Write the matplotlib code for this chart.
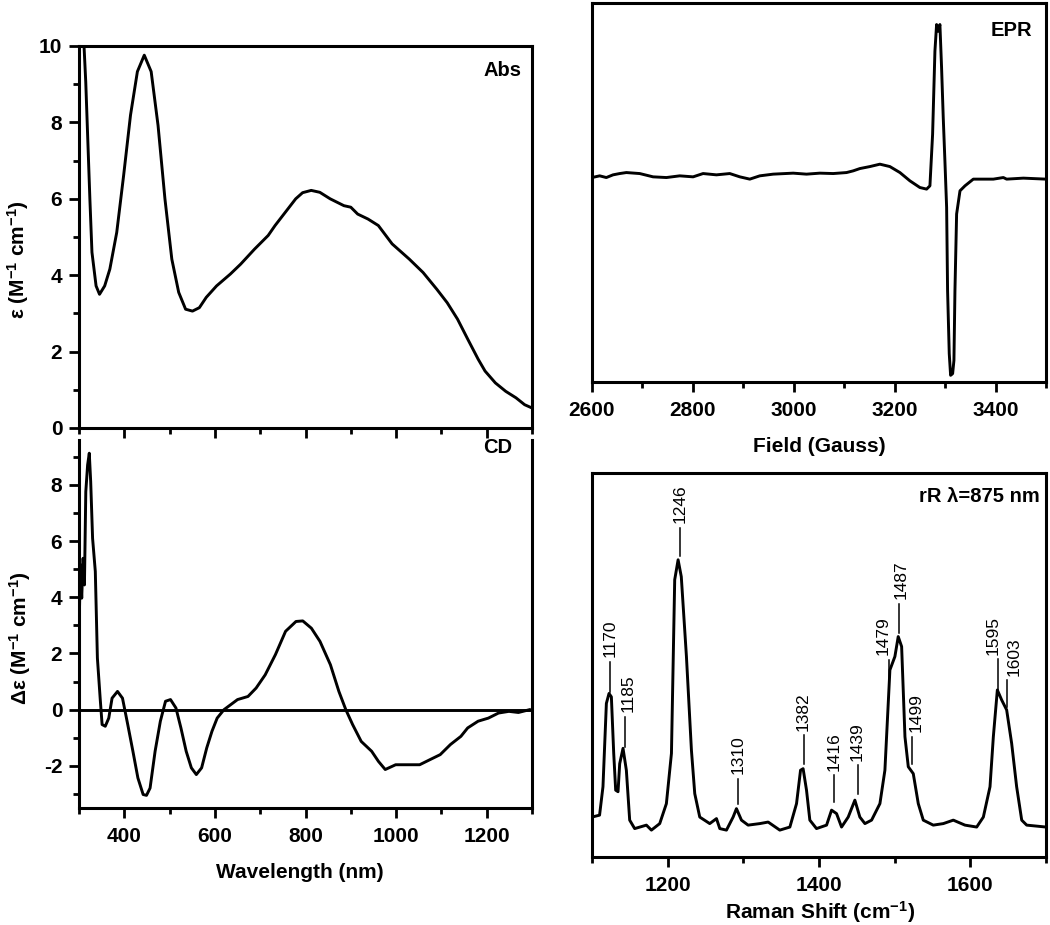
import matplotlib
matplotlib.use("Agg")
import matplotlib.pyplot as plt
from matplotlib.ticker import MultipleLocator, NullLocator, NullFormatter

plt.rcParams['font.family'] = ['Liberation Sans', 'DejaVu Sans']
plt.rcParams['font.weight'] = 'bold'
plt.rcParams['mathtext.fontset'] = 'custom'
plt.rcParams['mathtext.rm'] = 'Liberation Sans:bold'
plt.rcParams['mathtext.default'] = 'rm'
plt.rcParams['axes.unicode_minus'] = False

# ---------------- data ----------------
abs_wl = [305, 314.9, 324, 328.6, 337.7, 345.3, 356.7, 368.1, 383.3, 398.5, 413.7, 428.9, 444.1,
          459.3, 474.5, 489.7, 504.9, 520.1, 535.3, 550.5, 565.7, 580.9, 603.7, 634.1, 656.9,
          687.3, 717.6, 732.8, 755.6, 778.4, 793.6, 812.6, 831.6, 854.4, 884.8, 900, 915.2, 938,
          960.8, 991.2, 1029.2, 1059.6, 1090, 1112.8, 1135.6, 1158.4, 1181.2, 1196.4, 1219.2,
          1242, 1264.7, 1283.7, 1298.9]
abs_eps = [11.5, 9.06, 6.0, 4.6, 3.72, 3.5, 3.72, 4.16, 5.12, 6.61, 8.19, 9.33, 9.76,
           9.33, 7.92, 6.0, 4.42, 3.55, 3.11, 3.06, 3.15, 3.42, 3.72, 4.03, 4.29,
           4.68, 5.04, 5.3, 5.65, 6.0, 6.16, 6.22, 6.17, 6.0, 5.82, 5.78, 5.6, 5.47,
           5.3, 4.82, 4.42, 4.07, 3.63, 3.28, 2.85, 2.32, 1.8, 1.49, 1.18,
           0.96, 0.79, 0.61, 0.53]

cd_wl = [300, 303, 306, 309, 312, 315, 319, 322.7, 325.8, 330, 336, 340.6, 346.7, 351, 358,
         365.7, 373, 385, 396, 407.6, 419, 430, 441.6, 449, 456.9, 468, 479.6, 491, 502, 514,
         525, 536.6, 548, 559, 570.7, 582, 593.5, 605, 620, 635, 650, 673, 691, 711, 733.6,
         756, 779, 794, 813, 832, 855, 873.7, 889, 904, 923, 946, 961, 976, 999, 1029, 1052,
         1074.6, 1097.4, 1120, 1143, 1158, 1181, 1203.7, 1226, 1249, 1270, 1294.5]
cd_de = [2.67, 5.16, 3.97, 5.39, 4.44, 7.76, 8.71, 9.13, 8.12, 6.1, 4.92, 1.84, 0.41, -0.53, -0.59,
         -0.3, 0.41, 0.65, 0.41, -0.53, -1.48, -2.43, -3.02, -3.05, -2.79, -1.48, -0.41, 0.3, 0.36, 0.06,
         -0.65, -1.48, -2.07, -2.31, -2.07, -1.36, -0.77, -0.3, 0.0, 0.18, 0.36, 0.47, 0.77, 1.24, 1.96,
         2.79, 3.14, 3.16, 2.9, 2.43, 1.6, 0.65, 0.0, -0.53, -1.13, -1.48, -1.84, -2.13, -1.96, -1.96, -1.96,
         -1.78, -1.6, -1.24, -0.95, -0.65, -0.41, -0.3, -0.12, -0.06, -0.1, 0.0]

epr_field = [2600, 2615.2, 2628.4, 2641.7, 2654.9, 2668.1, 2694.6, 2721, 2747.5, 2773.9, 2800.4,
             2820.2, 2846.7, 2873.1, 2893, 2912.8, 2932.6, 2959.1, 2998.8, 3025.2, 3051.7, 3078.1,
             3104.6, 3117.8, 3131, 3150.9, 3170.7, 3190.5, 3210.4, 3230.2, 3250, 3263.3, 3269.9,
             3275.2, 3279.8, 3283.1, 3286.4, 3289.7, 3293, 3296.3, 3299.6, 3303, 3304.9, 3308.2,
             3310.9, 3314.9, 3317.5, 3319.5, 3322.8, 3329.5, 3339.4, 3355.9, 3395.6, 3415.4, 3422,
             3455.1, 3500]
epr_signal = [-1.7, 0, -1.7, 1, 2.3, 3.3, 2.3, -1, -1.7, 0, -1,
              2.3, 1, 2.3, -1, -3.3, 0, 1.7, 2.7, 1.7, 2.7, 2.3,
              3.3, 5, 7.3, 9.3, 11.7, 9.3, 3.3, -5, -11.7, -13.3, -10,
              41.7, 125, 151.7, 145, 151.7, 108.3, 58.3, 15, -31.7, -115, -178.3,
              -200, -198.3, -185, -115, -38.3, -15, -10, -3.3, -3.3, -1.7, -3.3,
              -2.3, -3.3]

rr_shift = [1100, 1110, 1114.5, 1119, 1122.5, 1125.6, 1128.7, 1131.3, 1134.4, 1136.6, 1141, 1145.4,
            1149.8, 1156.4, 1171.9, 1178.5, 1189.5, 1198.3, 1205, 1209.3, 1213.8, 1218, 1224.8,
            1231.4, 1235.8, 1242.4, 1255.6, 1264.5, 1268.9, 1277.7, 1286.5, 1290.9, 1297.5, 1306.3,
            1321.8, 1332.8, 1348.2, 1361.5, 1370.3, 1375.6, 1379, 1383.5, 1387.9, 1396.7, 1410,
            1416.6, 1423.2, 1429.8, 1438.6, 1447.4, 1454, 1460.7, 1469.5, 1480.5, 1487.1, 1493.7,
            1500.3, 1504.7, 1509.2, 1513.6, 1518, 1524.6, 1531.2, 1537.8, 1551, 1564.3, 1577.5,
            1592.9, 1608.4, 1617.2, 1626, 1630.4, 1635.7, 1641.4, 1648, 1654.6, 1661.2, 1667.9,
            1674.5, 1700]
rr_int = [10.4, 10.9, 18.3, 40, 42.6, 41.7, 27, 17.4, 17, 24.3, 28.3, 22.6,
          9.6, 7.4, 8.3, 7, 8.7, 13.9, 27, 72.2, 77.4, 73, 52.2,
          27.8, 16.5, 10.4, 8.7, 10, 7.4, 7, 10.4, 12.6, 9.6, 8.3,
          8.7, 9.1, 7, 7.8, 13.9, 22.6, 23, 17.4, 9.6, 7.4, 8.3,
          12.2, 11.3, 7.8, 10.4, 14.8, 10.4, 8.7, 9.6, 13.9, 22.6, 48.7,
          52.2, 57.4, 54.8, 31.3, 23.5, 21.7, 13.9, 9.6, 8.3, 8.7, 9.6,
          8.3, 7.8, 10.4, 18.3, 31.3, 43.5, 40.9, 38.3, 29.6, 18.3, 9.6,
          8.3, 7.8]

peak_labels = ['1170', '1185', '1246', '1310', '1382', '1416', '1439', '1479', '1487', '1499', '1595', '1603']
peak_line_x = [1124.2, 1143.2, 1216, 1293, 1380, 1420, 1451, 1492.8, 1505.6, 1522.3, 1637, 1648]
peak_text_x = [1124.2, 1147.6, 1216.8, 1293.1, 1379, 1419.6, 1450.5, 1484.9, 1509.1, 1528.9, 1630.3, 1657.7]
peak_line_lo = [43, 28.7, 78.3, 13.9, 24.3, 14.3, 16.5, 44.3, 58.3, 24.3, 43, 39]
peak_line_hi = [50.9, 36.5, 85.7, 20.4, 31.7, 21.3, 23.9, 51.3, 66, 31.3, 51.5, 46]

# ---------------- figure ----------------
W, H = 1050, 925
fig = plt.figure(figsize=(W / 100, H / 100), dpi=100)

def box(l, t, r, b):
    return [l / W, 1 - b / H, (r - l) / W, (b - t) / H]

def ftext(x, y, s, **kw):
    fig.text(x / W, 1 - y / H, s, **kw)

LW = 2.1
SP = 2.2
ax_abs = fig.add_axes(box(79, 46, 532, 428))
ax_cd = fig.add_axes(box(79, 440, 532, 808))
ax_epr = fig.add_axes(box(592, 3, 1046, 382))
ax_rr = fig.add_axes(box(592, 473, 1046, 857))

for ax in (ax_abs, ax_cd, ax_epr, ax_rr):
    for sp in ax.spines.values():
        sp.set_linewidth(SP)
    ax.tick_params(which='both', direction='out', width=2, labelsize=15, top=False, right=False)
    ax.tick_params(which='major', length=7)
    ax.tick_params(which='minor', length=4)
    ax.tick_params(axis='x', pad=7)
    ax.tick_params(axis='y', pad=5)

# Abs
ax_abs.plot(abs_wl, abs_eps, color='black', lw=LW)
ax_abs.set_xlim(300, 1300)
ax_abs.set_ylim(0, 10)
ax_abs.xaxis.set_major_locator(MultipleLocator(200))
ax_abs.xaxis.set_minor_locator(MultipleLocator(100))
ax_abs.xaxis.set_major_formatter(NullFormatter())
ax_abs.yaxis.set_major_locator(MultipleLocator(2))
ax_abs.yaxis.set_minor_locator(MultipleLocator(1))

# CD
ax_cd.plot(cd_wl, cd_de, color='black', lw=LW)
ax_cd.axhline(0, color='black', lw=LW)
ax_cd.set_xlim(300, 1300)
ax_cd.set_ylim(-3.5, 9.6)
ax_cd.spines['top'].set_visible(False)
ax_cd.xaxis.set_major_locator(MultipleLocator(200))
ax_cd.xaxis.set_minor_locator(MultipleLocator(100))
ax_cd.yaxis.set_major_locator(MultipleLocator(2))
ax_cd.yaxis.set_minor_locator(MultipleLocator(1))

# EPR
ax_epr.plot(epr_field, epr_signal, color='black', lw=LW)
ax_epr.set_xlim(2600, 3500)
ax_epr.set_ylim(-206.7, 173.3)
ax_epr.xaxis.set_major_locator(MultipleLocator(200))
ax_epr.xaxis.set_minor_locator(MultipleLocator(100))
ax_epr.yaxis.set_major_locator(NullLocator())
ax_epr.yaxis.set_minor_locator(NullLocator())

# rR
ax_rr.plot(rr_shift, rr_int, color='black', lw=LW)
ax_rr.set_xlim(1100, 1700)
ax_rr.set_ylim(0, 100)
ax_rr.xaxis.set_major_locator(MultipleLocator(200))
ax_rr.xaxis.set_minor_locator(MultipleLocator(100))
ax_rr.yaxis.set_major_locator(NullLocator())
ax_rr.yaxis.set_minor_locator(NullLocator())
for lab, lx, tx, lo, hi in zip(peak_labels, peak_line_x, peak_text_x, peak_line_lo, peak_line_hi):
    ax_rr.plot([lx, lx], [lo, hi], color='black', lw=1.1)
    ax_rr.text(tx, hi + 1.2, lab, rotation=90, ha='center', va='bottom',
               fontsize=12.5, fontweight='normal')

# panel labels
ftext(522, 71, 'Abs', ha='right', va='center', fontsize=14.5)
ftext(512, 448, 'CD', ha='right', va='center', fontsize=14.5)
ftext(1032, 30, 'EPR', ha='right', va='center', fontsize=14.5)
ftext(1040, 497, 'rR λ=875 nm', ha='right', va='center', fontsize=14.5)

# axis labels
ftext(18, 260, r'ε (M$^{-1}$ cm$^{-1}$)', rotation=90, ha='center', va='center', fontsize=15)
ftext(20, 638, r'Δε (M$^{-1}$ cm$^{-1}$)', rotation=90, ha='center', va='center', fontsize=15)
ftext(300, 873, 'Wavelength (nm)', ha='center', va='center', fontsize=15)
ftext(819, 447, 'Field (Gauss)', ha='center', va='center', fontsize=15)
ftext(820, 912, r'Raman Shift (cm$^{-1}$)', ha='center', va='center', fontsize=15)

fig.savefig('out.png', dpi=100)
